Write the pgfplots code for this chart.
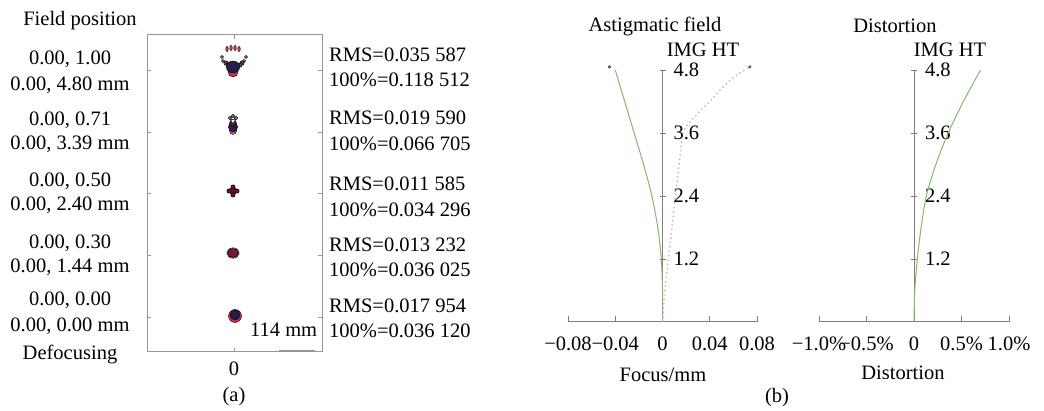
\documentclass[border=0pt]{standalone}
\usepackage{pgfplots}
\pgfplotsset{compat=1.18}
\usepackage{fontspec}
\setmainfont{Liberation Serif}

\definecolor{framegray}{RGB}{150,150,150}
\definecolor{axgray}{RGB}{125,125,125}
\definecolor{fieldgreen}{RGB}{130,185,110}
\definecolor{dotgray}{RGB}{185,185,185}
\definecolor{spotnavy}{RGB}{35,30,75}
\definecolor{spotmaroon}{RGB}{115,25,60}
\definecolor{spotred}{RGB}{215,45,70}
\definecolor{spotgray}{RGB}{120,110,120}

\newcommand{\figfont}{\fontsize{20.5}{24}\selectfont}

\pgfplotsset{
  every tick label/.append style={font=\figfont},
  /pgf/number format/assume math mode=true,
  fieldaxis/.style={
    anchor=south west, scale only axis,
    ymin=0, ymax=4.8,
    axis x line=bottom, axis y line=center,
    axis line style={-, axgray, line width=1pt},
    tick style={axgray, line width=0.8pt},
    major tick length=6pt,
    xtick align=inside, ytick align=center,
    hide obscured x ticks=false, hide obscured y ticks=false,
    scaled x ticks=false, scaled y ticks=false,
    ytick={1.2,2.4,3.6,4.8}, yticklabels={1.2,2.4,3.6,4.8},
    yticklabel style={anchor=west, xshift=7pt},
    xticklabel style={yshift=-8pt},
    clip=false,
  },
}

\begin{document}
\figfont
\begin{tikzpicture}[x=1pt,y=1pt,font=\figfont]
\useasboundingbox (0,0) rectangle (1044,411);

% (a) spot diagram
\begin{axis}[
  at={(147pt,59pt)}, anchor=south west,
  width=175pt, height=317pt, scale only axis,
  xmin=-87, xmax=88, ymin=0, ymax=317,
  axis line style={framegray, line width=1pt},
  tick style={framegray, line width=0.8pt},
  major tick length=4pt,
  xtick={0}, xticklabels={0},
  xticklabel style={yshift=-3pt},
  ytick={35,97,159,220,282}, yticklabels={},
  clip=false,
]
% field 0.00
\addplot[only marks, mark=*, mark size=6.5pt, mark options={draw=none, fill=spotred}] coordinates {(1,36)};
\addplot[only marks, mark=*, mark size=5pt, mark options={draw=none, fill=spotnavy}] coordinates {(1,37)};
% field 0.30
\addplot[only marks, mark=*, mark size=5.2pt, mark options={draw=none, fill=spotred!80, xscale=1.2}] coordinates {(-1,99)};
\addplot[only marks, mark=*, mark size=4.3pt, mark options={draw=none, fill=spotmaroon, xscale=1.25}] coordinates {(-1,99)};
% field 0.50
\addplot[only marks, mark=*, mark size=3.6pt, mark options={draw=none, fill=spotmaroon!85!black}] coordinates {(-1,161)};
\addplot[only marks, mark=*, mark size=2.2pt, mark options={draw=none, fill=spotmaroon!85!black}] coordinates {(-5,161) (3,161) (-1,165) (-1,157)};
% field 0.71
\addplot[only marks, mark=*, mark size=3.5pt, mark options={draw=none, fill=spotred!80}] coordinates {(-1,221)};
\addplot[only marks, mark=*, mark size=4.6pt, mark options={draw=none, fill=spotnavy, yscale=1.1}] coordinates {(-1,225)};
\addplot[only marks, mark=*, mark size=3.4pt, mark options={draw=none, fill=spotmaroon!60!spotnavy}] coordinates {(-1,229)};
\addplot[only marks, mark=triangle*, mark size=2.8pt, mark options={draw=none, fill=white, rotate=180}] coordinates {(-1,231)};
\addplot[only marks, mark=*, mark size=1.8pt, mark options={draw=none, fill=spotgray}] coordinates {(-4,234) (2,234) (-1,236)};
% field 1.00
\addplot[only marks, mark=*, mark size=1.6pt, mark options={draw=none, fill=spotgray}] coordinates {(-12,295) (-11,291) (12,295) (10,291)};
\addplot[only marks, mark=*, mark size=2.2pt, mark options={draw=none, fill=spotmaroon!70!spotgray}] coordinates {(-8,289) (-6,287) (8,289) (6,287)};
\addplot[only marks, mark=*, mark size=5pt, mark options={draw=none, fill=spotred}] coordinates {(-1,280)};
\addplot[only marks, mark=*, mark size=6pt, mark options={draw=none, fill=spotnavy, xscale=1.1}] coordinates {(-1,285)};
\addplot[only marks, mark=*, mark size=1.3pt, mark options={draw=none, fill=spotred!60!spotgray, yscale=2}] coordinates {(-7,303) (-3,304) (1,304) (5,303)};
% scale bar
\draw[framegray, line width=1.6pt] (axis cs:45,1.5) -- (axis cs:81,1.5);
\end{axis}

% (b) astigmatic field
\begin{axis}[fieldaxis,
  at={(568pt,89pt)}, width=189pt, height=252pt,
  xmin=-0.08, xmax=0.08,
  xtick={-0.08,-0.04,0,0.04,0.08}, xticklabels={−0.08,−0.04,0,0.04,0.08},
]
\addplot[fieldgreen, line width=1pt, smooth] coordinates {
  (0,0) (0,0.6) (-0.001,1.2) (-0.004,1.8) (-0.009,2.4) (-0.016,3.0) (-0.024,3.6) (-0.032,4.2) (-0.040,4.8)};
\addplot[dotgray, line width=1.4pt, dash pattern=on 1.4pt off 3pt, smooth] coordinates {
  (0,0) (0.002,0.6) (0.005,1.2) (0.008,1.8) (0.011,2.4) (0.014,3.0) (0.0175,3.6) (0.023,3.8) (0.031,4.0)
  (0.040,4.2) (0.048,4.4) (0.057,4.6) (0.066,4.75) (0.074,4.86)};
\addplot[only marks, mark=*, mark size=1.3pt, mark options={draw=none, fill=dotgray}] coordinates {(-0.045,4.86) (0.074,4.86)};
\end{axis}

% (b) distortion
\begin{axis}[fieldaxis,
  at={(819pt,89pt)}, width=190pt, height=252pt,
  xmin=-1, xmax=1,
  xtick={-1,-0.5,0,0.5,1}, xticklabels={−1.0\%,−0.5\%,0,0.5\%,1.0\%},
]
\addplot[fieldgreen, line width=1pt, smooth] coordinates {
  (0,0) (0.008,0.6) (0.035,1.2) (0.075,1.8) (0.13,2.4) (0.23,3.0) (0.36,3.6) (0.52,4.2) (0.70,4.8)};
\end{axis}

% texts of (a)
\node[anchor=base] at (80,385) {Field position};
\node[anchor=base] at (70,346) {0.00, 1.00};
\node[anchor=base] at (70,320) {0.00, 4.80 mm};
\node[anchor=base] at (70,285) {0.00, 0.71};
\node[anchor=base] at (70,261) {0.00, 3.39 mm};
\node[anchor=base] at (70,224) {0.00, 0.50};
\node[anchor=base] at (70,200) {0.00, 2.40 mm};
\node[anchor=base] at (70,162) {0.00, 0.30};
\node[anchor=base] at (70,138) {0.00, 1.44 mm};
\node[anchor=base] at (70,105) {0.00, 0.00};
\node[anchor=base] at (70,79) {0.00, 0.00 mm};
\node[anchor=base] at (70,51) {Defocusing};
\node[anchor=base west, inner sep=0pt] at (329,349) {RMS=0.035 587};
\node[anchor=base west, inner sep=0pt] at (329,324) {100\%=0.118 512};
\node[anchor=base west, inner sep=0pt] at (329,286) {RMS=0.019 590};
\node[anchor=base west, inner sep=0pt] at (329,260) {100\%=0.066 705};
\node[anchor=base west, inner sep=0pt] at (329,220) {RMS=0.011 585};
\node[anchor=base west, inner sep=0pt] at (329,194) {100\%=0.034 296};
\node[anchor=base west, inner sep=0pt] at (329,159) {RMS=0.013 232};
\node[anchor=base west, inner sep=0pt] at (329,134) {100\%=0.036 025};
\node[anchor=base west, inner sep=0pt] at (329,98) {RMS=0.017 954};
\node[anchor=base west, inner sep=0pt] at (329,73) {100\%=0.036 120};
\node[anchor=base west, inner sep=0pt] at (250,74) {114 mm};
\node[anchor=base] at (234,9) {(a)};

% texts of (b)
\node[anchor=base] at (655,379) {Astigmatic field};
\node[anchor=base, inner sep=0pt] at (703,354) {IMG HT};
\node[anchor=base] at (663,29) {Focus/mm};
\node[anchor=base] at (895,378) {Distortion};
\node[anchor=base, inner sep=0pt] at (950,354) {IMG HT};
\node[anchor=base] at (903,31) {Distortion};
\node[anchor=base] at (777,8) {(b)};
\end{tikzpicture}
\end{document}
